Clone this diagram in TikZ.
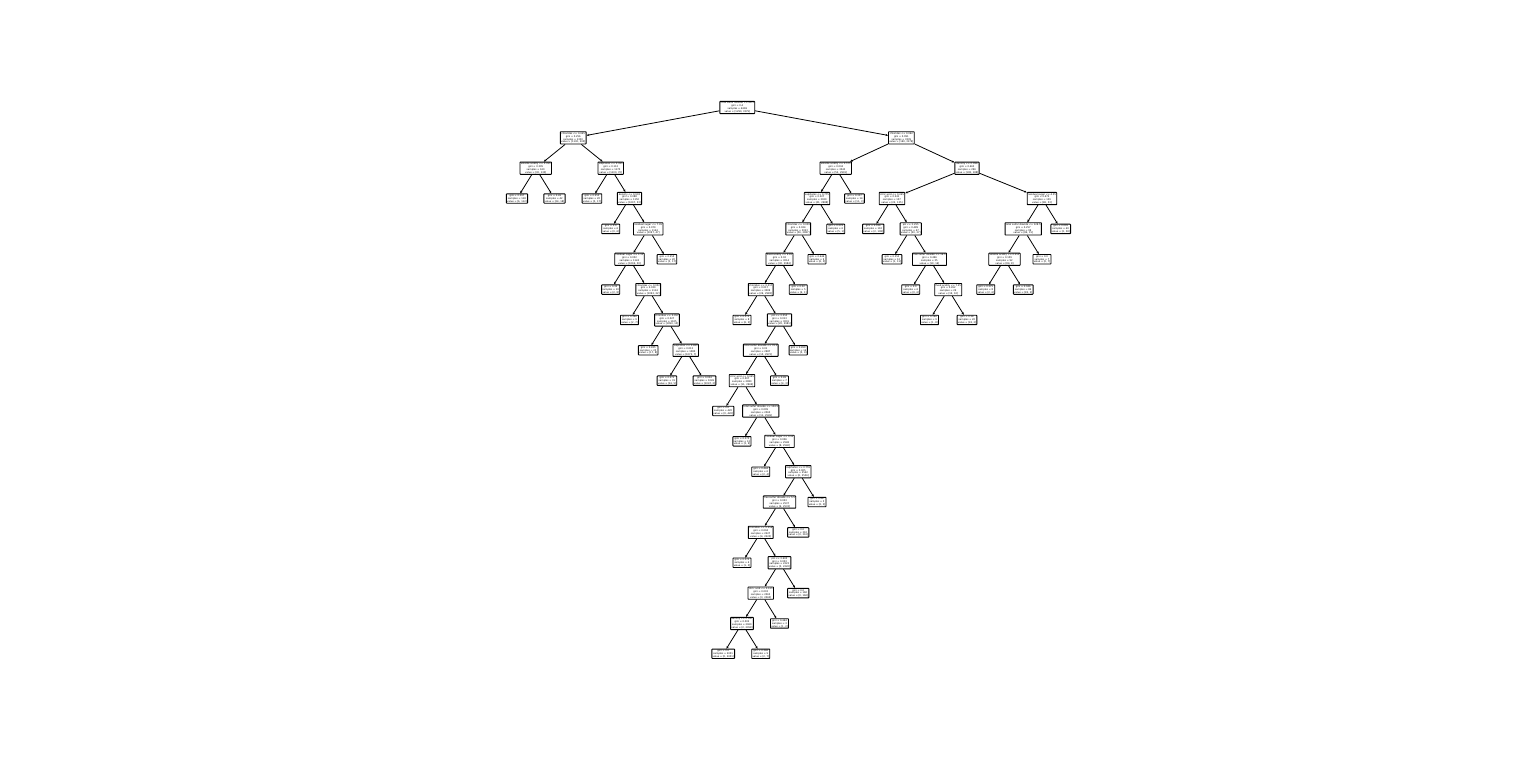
\documentclass[tikz,border=0pt]{standalone}
\usepackage{fontspec}
\setmainfont{DejaVu Sans}
\usepackage{tikz}
\usetikzlibrary{arrows.meta}
\tikzstyle{treebox}=[draw, line width=0.9bp, rounded corners=0.5bp, fill=white, align=center, inner sep=0.8bp, font=\fontsize{2.4}{2.85}\selectfont]
\tikzstyle{treeedge}=[line width=0.8bp, -{Stealth[length=2.6bp,width=2.2bp]}]
\newcommand{\splitnode}[7]{
	\node[treebox] (#1) at (#2,#3) {#4\\gini = #5\\samples = #6\\value = [#7]};
}
\newcommand{\leafnode}[6]{
	\node[treebox] (#1) at (#2,#3) {gini = #4\\samples = #5\\value = [#6]};
}
\begin{document}
\begin{tikzpicture}[x=18.75bp, y=-30.35bp]
	\useasboundingbox (-27.573,-3.542) rectangle (54.347,21.466);
	% root and first levels
	\splitnode{root}{11.75}{0}{total sulfur dioxide <= 66.5}{0.4}{4669}{1290, 3379}
	\splitnode{a}{3}{1}{chlorides <= 0.045}{0.256}{1330}{1130, 200}
	\splitnode{b}{20.5}{1}{chlorides <= 0.062}{0.091}{3339}{160, 3179}
	% left branch
	\splitnode{a1}{1}{2}{volatile acidity <= 0.395}{0.305}{160}{30, 130}
	\leafnode{a1l}{0}{3}{0.097}{118}{6, 112}
	\leafnode{a1r}{2}{3}{0.49}{42}{24, 18}
	\splitnode{a2}{5}{2}{sulphates <= 0.385}{0.112}{1170}{1100, 70}
	\leafnode{a2l}{4}{3}{0.255}{20}{3, 17}
	\splitnode{a22}{6}{3}{density <= 0.993}{0.088}{1150}{1097, 53}
	\leafnode{a22l}{5}{4}{0.0}{6}{0, 6}
	\splitnode{a222}{7}{4}{residual sugar <= 7.95}{0.079}{1144}{1097, 47}
	\leafnode{a222r}{8}{5}{0.255}{20}{3, 17}
	\splitnode{a2221}{6}{5}{residual sugar <= 1.15}{0.052}{1124}{1094, 30}
	\leafnode{a2221l}{5}{6}{0.32}{10}{2, 8}
	\splitnode{a22212}{7}{6}{chlorides <= 0.052}{0.039}{1114}{1092, 22}
	\leafnode{a22212l}{6}{7}{0.346}{9}{2, 7}
	\splitnode{ax}{8}{7}{chlorides <= 0.057}{0.027}{1105}{1090, 15}
	\leafnode{axl}{7}{8}{0.435}{25}{17, 8}
	\splitnode{ay}{9}{8}{sulphates <= 0.485}{0.013}{1080}{1073, 7}
	\leafnode{ayl}{8}{9}{0.271}{31}{26, 5}
	\leafnode{ayr}{10}{9}{0.004}{1049}{1047, 2}
	% right branch, long chain
	\splitnode{b1}{17}{2}{volatile acidity <= 0.575}{0.034}{3043}{52, 2991}
	\leafnode{b1r}{18}{3}{0.337}{14}{11, 3}
	\splitnode{b11}{16}{3}{sulphates <= 0.775}{0.027}{3029}{41, 2988}
	\leafnode{b11r}{17}{4}{0.278}{6}{5, 1}
	\splitnode{b111}{15}{4}{chlorides <= 0.059}{0.024}{3023}{36, 2987}
	\leafnode{b111r}{16}{5}{0.444}{9}{6, 3}
	\splitnode{bc}{14}{5}{fixed acidity <= 9.65}{0.02}{3014}{30, 2984}
	\leafnode{bcr}{15}{6}{0.32}{5}{4, 1}
	\splitnode{bc1}{13}{6}{chlorides <= 0.017}{0.017}{3009}{26, 2983}
	\leafnode{bc1l}{12}{7}{0.375}{8}{6, 2}
	\splitnode{bd}{14}{7}{pH <= 3.555}{0.013}{3001}{20, 2981}
	\leafnode{bdr}{15}{8}{0.459}{14}{5, 9}
	\splitnode{be}{13}{8}{total sulfur dioxide <= 76.5}{0.01}{2987}{15, 2972}
	\leafnode{ber}{14}{9}{0.49}{7}{4, 3}
	\splitnode{bf}{12}{9}{citric acid <= 0.045}{0.007}{2980}{11, 2969}
	\leafnode{bfl}{11}{10}{0.0}{420}{0, 420}
	\splitnode{bg}{13}{10}{total sulfur dioxide <= 104.5}{0.009}{2560}{11, 2549}
	\leafnode{bgl}{12}{11}{0.375}{12}{3, 9}
	\splitnode{bh}{14}{11}{residual sugar <= 0.95}{0.006}{2548}{8, 2540}
	\leafnode{bhl}{13}{12}{0.444}{6}{2, 4}
	\splitnode{bi}{15}{12}{sulphates <= 0.755}{0.005}{2542}{6, 2536}
	\leafnode{bir}{16}{13}{0.48}{5}{2, 3}
	\splitnode{bj}{14}{13}{free sulfur dioxide <= 5.5}{0.003}{2537}{4, 2533}
	\leafnode{bjr}{15}{14}{0.0}{310}{0, 310}
	\splitnode{bk}{13}{14}{chlorides <= 0.056}{0.004}{2227}{4, 2223}
	\leafnode{bkl}{12}{15}{0.375}{4}{1, 3}
	\splitnode{bl}{14}{15}{pH <= 3.405}{0.003}{2223}{3, 2220}
	\leafnode{blr}{15}{16}{0.0}{160}{0, 160}
	\splitnode{bm}{13}{16}{citric acid <= 0.125}{0.003}{2063}{3, 2060}
	\leafnode{bmr}{14}{17}{0.444}{3}{1, 2}
	\splitnode{bn}{12}{17}{density <= 0.997}{0.002}{2060}{2, 2058}
	\leafnode{bnl}{11}{18}{0.0}{2051}{0, 2051}
	\leafnode{bnr}{13}{18}{0.346}{9}{2, 7}
	% right branch, outer part
	\splitnode{b2}{24}{2}{density <= 0.996}{0.463}{296}{108, 188}
	\splitnode{b21}{20}{3}{citric acid <= 0.245}{0.241}{157}{22, 135}
	\leafnode{b21l}{19}{4}{0.036}{110}{2, 108}
	\splitnode{b212}{21}{4}{pH <= 3.255}{0.489}{47}{20, 27}
	\leafnode{b212l}{20}{5}{0.153}{12}{1, 11}
	\splitnode{b2122}{22}{5}{free sulfur dioxide <= 16.5}{0.496}{35}{19, 16}
	\leafnode{b2122l}{21}{6}{0.0}{6}{0, 6}
	\splitnode{b21222}{23}{6}{fixed acidity <= 7.25}{0.452}{29}{19, 10}
	\leafnode{b21222l}{22}{7}{0.198}{9}{1, 8}
	\leafnode{b21222r}{24}{7}{0.18}{20}{18, 2}
	\splitnode{b22}{28}{3}{residual sugar <= 4.35}{0.472}{139}{86, 53}
	\leafnode{b22r}{29}{4}{0.095}{40}{2, 38}
	\splitnode{b221}{27}{4}{total sulfur dioxide <= 128.5}{0.257}{99}{84, 15}
	\leafnode{b221r}{28}{5}{0.0}{7}{0, 7}
	\splitnode{b2211}{26}{5}{volatile acidity <= 0.255}{0.159}{92}{84, 8}
	\leafnode{b2211l}{25}{6}{0.375}{8}{2, 6}
	\leafnode{b2211r}{27}{6}{0.046}{84}{82, 2}
	% edges
	\foreach \p/\c in {root/a, root/b, a/a1, a/a2, a1/a1l, a1/a1r, a2/a2l, a2/a22,
		a22/a22l, a22/a222, a222/a2221, a222/a222r, a2221/a2221l, a2221/a22212,
		a22212/a22212l, a22212/ax, ax/axl, ax/ay, ay/ayl, ay/ayr}
		\draw[treeedge] (\p) -- (\c);
	\foreach \p/\c in {b/b1, b/b2, b1/b11, b1/b1r, b11/b111, b11/b11r, b111/bc, b111/b111r,
		bc/bc1, bc/bcr, bc1/bc1l, bc1/bd, bd/be, bd/bdr, be/bf, be/ber, bf/bfl, bf/bg,
		bg/bgl, bg/bh, bh/bhl, bh/bi, bi/bj, bi/bir, bj/bk, bj/bjr, bk/bkl, bk/bl,
		bl/bm, bl/blr, bm/bn, bm/bmr, bn/bnl, bn/bnr}
		\draw[treeedge] (\p) -- (\c);
	\foreach \p/\c in {b2/b21, b2/b22, b21/b21l, b21/b212, b212/b212l, b212/b2122,
		b2122/b2122l, b2122/b21222, b21222/b21222l, b21222/b21222r, b22/b221, b22/b22r,
		b221/b2211, b221/b221r, b2211/b2211l, b2211/b2211r}
		\draw[treeedge] (\p) -- (\c);
\end{tikzpicture}
\end{document}
